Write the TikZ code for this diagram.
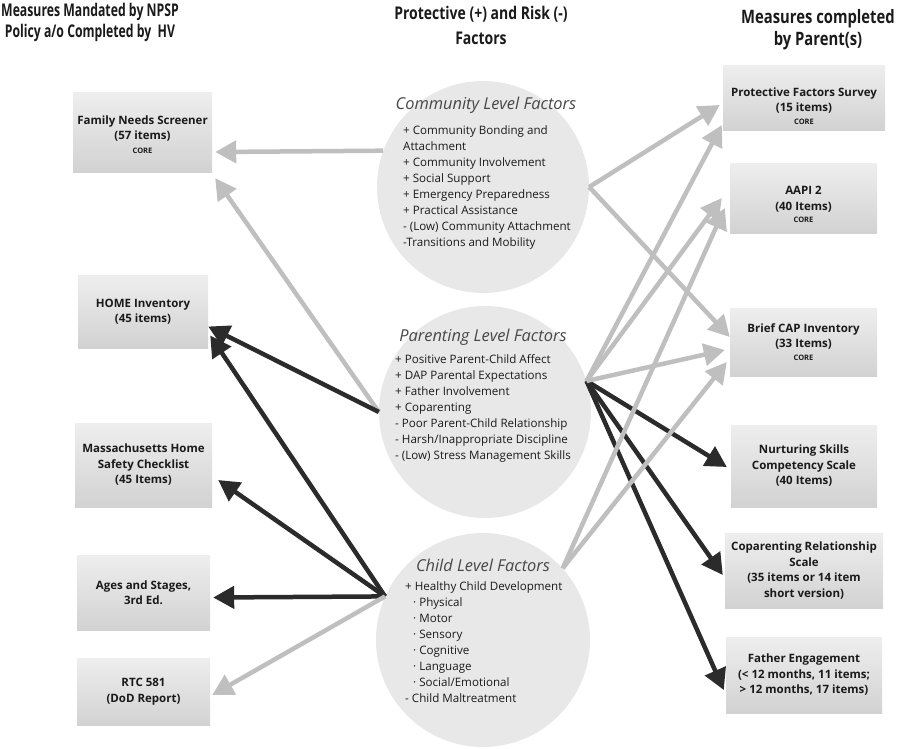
\documentclass[tikz,border=0pt]{standalone}
\usepackage{fontspec}
\setmainfont{Open Sans}
\newfontfamily\headfont{Open Sans}[FakeStretch=0.8]
\newfontfamily\headfontL{Open Sans}[FakeStretch=0.7]
\usetikzlibrary{arrows.meta,calc}
\definecolor{circfill}{HTML}{E8E8E8}
\definecolor{arrlight}{HTML}{BFBFBF}
\definecolor{arrdark}{HTML}{2B2B2B}
\definecolor{boxtop}{HTML}{EEEEEE}
\definecolor{boxbot}{HTML}{D2D2D2}
\definecolor{txt}{HTML}{1A1A1A}
\newcommand{\coretag}{{\fontsize{7.5}{8}\selectfont CORE}}
\begin{document}
\begin{tikzpicture}[x=1pt,y=-1pt,
  mbox/.style={rectangle, top color=boxtop, bottom color=boxbot, draw=none, align=center,
    text=txt, font=\fontsize{11.5}{15.5}\selectfont\bfseries, inner sep=2pt},
  circ/.style={circle, fill=circfill, draw=none, inner sep=0pt},
  ctitle/.style={font=\fontsize{16.4}{18}\selectfont\itshape, text=black!72, inner sep=0pt},
  clist/.style={font=\fontsize{11.6}{16}\selectfont, text=txt, align=left, inner sep=0pt, anchor=north west},
  header/.style={font=\headfont\bfseries\fontsize{17.5}{22}\selectfont, text=txt, align=center, inner sep=0pt},
  lightarrow/.style={draw=arrlight, line width=4.5pt, -{Triangle[length=21pt,width=22pt]}},
  darkarrow/.style={draw=arrdark, line width=4.5pt, -{Triangle[length=21pt,width=22pt]}}
]
\useasboundingbox (0,0) rectangle (900,748);

% headers
\node[header, font=\headfontL\bfseries\fontsize{17.5}{21}\selectfont, anchor=west] (h1) at (1,22) {Measures Mandated by NPSP\\Policy a/o Completed by~ HV};
\node[header, font=\headfont\bfseries\fontsize{17.5}{25}\selectfont] (h2) at (481,25) {Protective (+) and Risk (-)\\Factors};
\node[header, font=\headfont\bfseries\fontsize{18.5}{22}\selectfont] (h3) at (818,30) {Measures completed\\by Parent(s)};

% circles
\node[circ, minimum size=212pt] (comm) at (483,187) {};
\node[circ, minimum size=212pt] (par) at (485,412) {};
\node[circ, minimum size=214pt] (chi) at (483,640) {};

% left boxes
\node[mbox, minimum width=139pt, minimum height=80pt] (fns) at (142.5,132)
  {\rule{0pt}{14pt}Family Needs Screener\\(57 items)\\[-2pt]\coretag};
\node[mbox, minimum width=130pt, minimum height=73pt] (home) at (143,311.5)
  {HOME Inventory\\(45 items)};
\node[mbox, minimum width=137pt, minimum height=84pt] (mass) at (143.5,465)
  {Massachusetts Home\\Safety Checklist\\(45 Items)};
\node[mbox, minimum width=133pt, minimum height=75pt] (ages) at (143.5,592.5)
  {Ages and Stages,\\3rd Ed.};
\node[mbox, minimum width=133pt, minimum height=67pt] (rtc) at (143.5,691.5)
  {RTC 581\\(DoD Report)};

% right boxes
\node[mbox, minimum width=162pt, minimum height=65pt] (pfs) at (804,97.5)
  {\rule{0pt}{26pt}Protective Factors Survey\\(15 items)\\[-3pt]\coretag};
\node[mbox, minimum width=147pt, minimum height=70pt] (aapi) at (803.5,198)
  {\rule{0pt}{22pt}AAPI 2\\(40 Items)\\[-3pt]\coretag};
\node[mbox, minimum width=147pt, minimum height=68pt] (cap) at (803.5,342)
  {Brief CAP Inventory\\(33 Items)\\[-3pt]\coretag};
\node[mbox, minimum width=146pt, minimum height=82pt] (nsc) at (804,466)
  {Nurturing Skills\\Competency Scale\\(40 Items)};
\node[mbox, minimum width=158pt, minimum height=75pt] (crs) at (804,570.5)
  {Coparenting Relationship\\Scale\\(35 items or 14 item\\short version)};
\node[mbox, minimum width=156pt, minimum height=76pt] (fe) at (804,675)
  {Father Engagement\\(< 12 months, 11 items;\\> 12 months, 17 items)};

% circle texts
\node[ctitle] (ct1) at (486,105) {Community Level Factors};
\node[clist] (cl1) at (403,125) {+ Community Bonding and\\Attachment\\+ Community Involvement\\+ Social Support\\+ Emergency Preparedness\\+ Practical Assistance\\- (Low) Community Attachment\\-Transitions and Mobility};
\node[ctitle] (ct2) at (483,337) {Parenting Level Factors};
\node[clist] (cl2) at (395,354) {+ Positive Parent-Child Affect\\+ DAP Parental Expectations\\+ Father Involvement\\+ Coparenting\\- Poor Parent-Child Relationship\\- Harsh/Inappropriate Discipline\\- (Low) Stress Management Skills};
\node[ctitle] (ct3) at (483,565) {Child Level Factors};
\node[clist] (cl3) at (405,581) {+ Healthy Child Development\\
\hspace*{8pt}· Physical\\\hspace*{8pt}· Motor\\\hspace*{8pt}· Sensory\\\hspace*{8pt}· Cognitive\\\hspace*{8pt}· Language\\\hspace*{8pt}· Social/Emotional\\- Child Maltreatment};

% hubs and tips
\coordinate (commL) at (comm.160);
\coordinate (commR) at (comm.0);
\coordinate (parL) at (par.180);
\coordinate (parR) at (par.17);
\coordinate (chiL) at (chi.156);
\coordinate (chiR) at (chi.42);

\coordinate (fnsA) at ($(fns.east)+(3,20)$);
\coordinate (fnsB) at ($(fns.south east)+(3,6)$);
\coordinate (homeA) at ($(home.east)+(0,15)$);
\coordinate (homeB) at ($(home.east)+(2,24)$);
\coordinate (massT) at ($(mass.east)+(6,15)$);
\coordinate (agesT) at ($(ages.east)+(3,5)$);
\coordinate (rtcT) at ($(rtc.east)+(2,3.5)$);

\coordinate (pfsA) at ($(pfs.west)+(-3,7.5)$);
\coordinate (pfsB) at ($(pfs.west)+(-1,27.5)$);
\coordinate (aapiA) at ($(aapi.west)+(-8,0)$);
\coordinate (aapiB) at ($(aapi.west)+(-5,10)$);
\coordinate (capA) at ($(cap.west)+(0,-5)$);
\coordinate (capB) at ($(cap.west)+(-5,8)$);
\coordinate (capC) at ($(cap.west)+(-3,20)$);
\coordinate (nscT) at ($(nsc.west)+(-4,1)$);
\coordinate (crsT) at ($(crs.west)+(-2,4.5)$);
\coordinate (feT) at ($(fe.west)+(-2,15)$);

% left connectors
\draw[lightarrow] (commL) -- (fnsA);
\draw[lightarrow] (parL) -- (fnsB);
\draw[darkarrow] (parL) -- (homeA);
\draw[darkarrow] (chiL) -- (homeB);
\draw[darkarrow] (chiL) -- (massT);
\draw[darkarrow] (chiL) -- (agesT);
\draw[lightarrow] (chiL) -- (rtcT);

% right connectors
\draw[darkarrow] (parR) -- (nscT);
\draw[darkarrow] (parR) -- (crsT);
\draw[darkarrow] (parR) -- (feT);
\draw[lightarrow] (commR) -- (pfsA);
\draw[lightarrow] (commR) -- (capA);
\draw[lightarrow] (parR) -- (pfsB);
\draw[lightarrow] (parR) -- (aapiA);
\draw[lightarrow] (parR) -- (capB);
\draw[lightarrow] (chiR) -- (aapiB);
\draw[lightarrow] (chiR) -- (capC);
\end{tikzpicture}
\end{document}
